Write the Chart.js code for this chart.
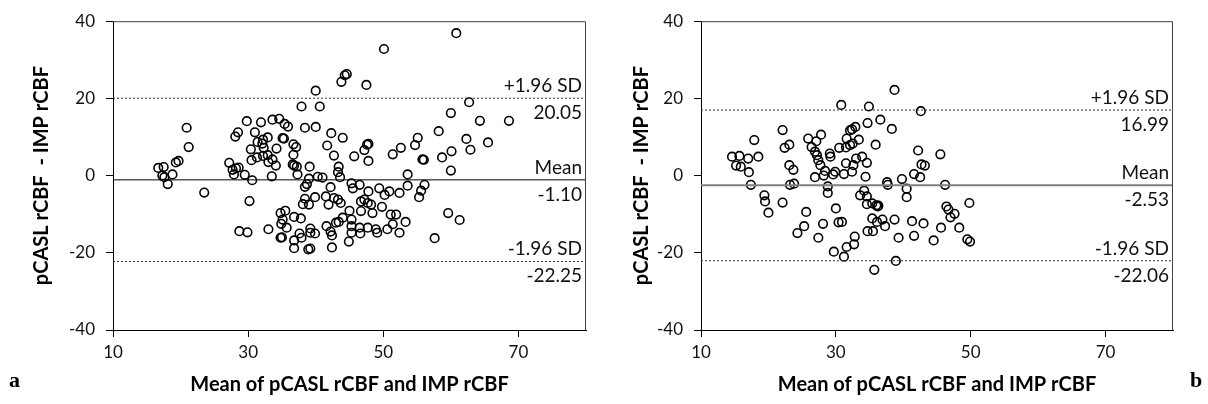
<!DOCTYPE html>
<html>
<head>
<meta charset="utf-8">
<script src="https://cdn.jsdelivr.net/npm/chart.js@4.4.1/dist/chart.umd.min.js"></script>
<style>
html,body{margin:0;padding:0;background:#fff;}
body{width:1208px;height:404px;overflow:hidden;position:relative;}
canvas{position:absolute;top:0;}
#ca{left:0;}
#cb{left:600px;}
.tag{position:absolute;font-family:'Liberation Serif','DejaVu Serif',serif;font-weight:bold;font-size:22px;color:#000;line-height:1;}
</style>
</head>
<body>
<canvas id="ca" width="600" height="404"></canvas>
<canvas id="cb" width="608" height="404"></canvas>
<div class="tag" style="left:9px;top:369px;">a</div>
<div class="tag" style="left:1190px;top:369px;">b</div>
<script>
// ---------- data ----------
const xTickValues = [10, 30, 50, 70];
const yTickValues = [-40, -20, 0, 20, 40];
const xRange = [10, 80];
const yRange = [-40, 40];
const xTitle = 'Mean of pCASL rCBF and IMP rCBF';
const yTitle = 'pCASL rCBF  - IMP rCBF';
const lineNames = ['+1.96 SD', 'Mean', '-1.96 SD'];

// panel a
const aLimits = [20.05, -1.10, -22.25];
const aLimitText = ['20.05', '-1.10', '-22.25'];
const aX = [44.3,44.6,43.8,40.0,37.9,40.6,20.9,21.2,29.8,31.9,33.6,34.6,35.4,35.9,38.4,40.0,42.3,44.0,31.0,28.5,
  28.1,31.4,32.2,32.1,32.9,35.1,35.3,36.7,37.1,30.4,32.3,34.2,41.7,42.7,36.7,30.5,31.3,32.2,32.9,33.0,
  33.6,34.1,36.6,36.8,37.2,39.1,43.4,43.3,27.2,27.7,28.2,28.6,27.9,29.5,30.6,33.5,37.3,39.0,40.3,41.0,
  43.6,16.7,17.5,19.3,19.7,17.3,17.6,18.8,18.1,23.5,30.2,28.7,29.9,33.0,38.7,38.4,42.2,38.4,39.9,38.1,
  39.0,41.5,42.7,43.3,41.9,43.7,34.8,35.5,35.1,34.9,36.8,37.8,35.7,34.8,35.0,36.8,36.8,37.6,37.9,39.2,
  39.2,39.9,38.9,39.2,41.6,42.2,42.4,42.4,43.0,43.4,44.0,45.3,45.5,46.5,47.8,49.4,50.2,50.9,52.4,53.6,
  53.6,55.3,55.6,56.1,46.7,47.2,47.7,48.2,45.0,46.7,48.4,49.8,45.3,45.3,46.5,47.7,48.9,49.1,45.3,46.6,
  44.9,50.6,51.4,51.9,51.1,52.4,53.3,59.6,61.3,57.6,60.8,50.1,47.5,62.7,60.0,64.3,68.6,58.2,62.3,62.9,
  65.5,60.1,58.7,60.0,55.1,54.7,55.8,56.0,51.4,52.6,45.7,47.2,47.6,47.8,47.8];
const aY = [26.0,26.3,24.3,22.0,17.9,17.9,12.4,7.4,14.1,13.8,14.5,14.7,13.4,12.7,12.4,12.6,11.0,9.8,11.2,11.2,
  10.1,8.7,9.3,8.3,9.9,9.7,9.6,8.1,7.4,6.8,7.2,7.0,7.8,5.2,5.4,4.0,4.7,5.1,5.3,3.5,
  4.2,2.6,2.9,2.6,2.3,2.3,2.3,0.9,3.3,1.5,1.9,2.1,0.3,0.2,-1.2,-0.2,0.3,-0.8,-0.3,-0.5,
  -0.4,2.0,2.2,3.4,3.8,0.0,-0.4,0.3,-2.2,-4.4,-6.6,-14.4,-14.7,-13.9,-2.2,-2.9,-3.0,-6.0,-5.6,-7.4,
  -7.5,-5.4,-5.8,-6.2,-7.5,-7.1,-9.7,-9.1,-11.4,-12.5,-10.7,-11.1,-13.5,-16.1,-16.0,-16.8,-18.8,-15.0,-16.1,-13.7,
  -14.8,-15.0,-19.1,-18.9,-13.1,-14.5,-15.5,-18.6,-12.2,-12.0,-10.9,-2.0,-3.3,-2.4,-4.1,-3.3,-5.0,-4.1,-4.5,0.3,
  -2.6,-5.6,-3.9,-2.4,-6.7,-6.2,-7.1,-7.5,-9.1,-9.2,-9.7,-8.1,-11.4,-13.1,-13.5,-13.5,-13.9,-14.8,-14.8,-15.0,
  -17.1,-13.9,-12.6,-10.1,-10.1,-14.8,-12.0,-9.7,-11.5,-16.2,36.9,32.8,23.5,19.0,16.2,14.2,14.2,11.5,9.5,6.7,
  8.6,6.3,4.7,1.3,9.8,7.9,4.2,4.1,5.5,7.2,5.0,6.6,8.0,8.2,3.8];

// panel b
const bLimits = [16.99, -2.53, -22.06];
const bLimitText = ['16.99', '-2.53', '-22.06'];
const bX = [38.7,30.8,34.9,42.6,36.6,34.7,38.3,32.9,32.1,32.4,31.6,33.4,32.1,31.5,30.5,32.5,35.9,22.1,17.9,25.9,
  27.1,27.8,22.4,23.1,26.4,26.9,27.2,27.4,29.1,29.2,33.0,33.9,34.6,31.5,32.6,32.4,31.2,29.9,29.6,28.4,
  28.2,27.7,26.9,34.4,14.6,15.7,17.0,18.5,15.2,15.9,17.1,23.1,23.7,42.2,42.7,43.2,45.5,41.6,42.5,39.8,
  37.6,17.4,19.4,19.5,20.0,22.1,23.2,23.8,28.8,28.8,30.0,25.6,25.3,24.3,27.4,28.1,30.4,30.9,29.7,31.2,
  31.6,32.7,32.8,35.7,38.9,33.6,34.2,34.6,34.6,35.4,36.0,36.2,36.3,35.4,36.9,36.1,37.3,34.7,35.5,37.7,
  38.7,39.3,40.5,40.5,41.3,41.6,43.0,44.5,45.6,46.2,46.4,46.7,47.6,47.0,48.3,49.8,49.5,49.9];
const bY = [22.2,18.3,17.9,16.7,14.5,13.6,12.1,12.6,11.7,12.0,9.6,9.3,7.9,7.3,7.2,8.3,8.0,11.8,9.2,9.6,
  8.9,10.6,7.2,8.0,7.4,6.2,5.3,4.0,5.7,4.9,4.4,4.9,3.3,3.2,2.7,1.0,0.4,1.0,0.3,1.2,
  0.0,2.7,-0.4,-0.3,4.9,5.1,4.4,4.9,2.6,2.3,0.9,2.7,1.5,6.5,2.9,2.6,5.5,0.4,-0.4,-0.9,
  -1.7,-2.4,-5.1,-6.7,-9.6,-7.0,-2.4,-2.1,-2.8,-4.5,-8.5,-9.4,-13.1,-14.9,-16.1,-12.5,-12.1,-12.0,-19.7,-21.0,
  -18.5,-17.8,-15.8,-24.4,-22.1,-5.1,-3.9,-5.4,-7.4,-7.2,-7.7,-8.0,-7.8,-11.1,-11.4,-12.0,-13.1,-14.4,-14.4,-2.4,
  -11.4,-16.1,-3.4,-5.6,-11.8,-15.6,-12.4,-16.8,-13.5,-2.4,-8.0,-8.8,-9.9,-10.8,-13.5,-7.1,-16.5,-17.1];

// ---------- chart builder ----------
const FONT = 'Lato, "Open Sans", sans-serif';

const annotatePlugin = {
  id: 'annotate',
  afterDatasetsDraw(chart) {
    const o = chart.options.plugins.annotate;
    const {ctx, chartArea: a, scales: {y}} = chart;
    ctx.save();
    ctx.strokeStyle = '#404040';
    ctx.lineWidth = 1;
    ctx.beginPath();
    ctx.moveTo(a.left, a.top + 0.5);
    ctx.lineTo(a.right - 0.5, a.top + 0.5);
    ctx.lineTo(a.right - 0.5, a.bottom);
    ctx.stroke();
    ctx.font = '19px ' + FONT;
    ctx.fillStyle = '#111';
    ctx.textAlign = 'right';
    ctx.textBaseline = 'alphabetic';
    o.values.forEach((v, i) => {
      const py = y.getPixelForValue(v);
      ctx.fillText(o.names[i], a.right - 4, py - 6);
      ctx.fillText(o.texts[i], a.right - 4, py + 21);
    });
    ctx.restore();
  }
};

function makeChart(id, xs, ys, limits, limitText, axisW, padRight, meanColor, meanWidth) {
  const pts = xs.map((x, i) => ({x: x, y: ys[i]}));
  const hline = (v) => [{x: xRange[0], y: v}, {x: xRange[1], y: v}];
  const ctx = document.getElementById(id);
  return new Chart(ctx, {
    type: 'scatter',
    data: {
      datasets: [
        {data: hline(limits[0]), showLine: true, pointRadius: 0, borderColor: '#333', borderWidth: 1, borderDash: [2, 2]},
        {data: hline(limits[1]), showLine: true, pointRadius: 0, borderColor: meanColor, borderWidth: meanWidth},
        {data: hline(limits[2]), showLine: true, pointRadius: 0, borderColor: '#333', borderWidth: 1, borderDash: [2, 2]},
        {data: pts, pointStyle: 'circle', pointRadius: 4.3, pointBorderWidth: 1.6, borderColor: '#000', backgroundColor: 'rgba(0,0,0,0)', pointBackgroundColor: 'rgba(0,0,0,0)', pointBorderColor: '#000'}
      ]
    },
    options: {
      responsive: false,
      animation: false,
      devicePixelRatio: 1,
      layout: {padding: {top: 18, right: padRight, bottom: 0, left: 0}, autoPadding: false},
      plugins: {
        legend: {display: false},
        tooltip: {enabled: false},
        annotate: {values: limits, names: lineNames, texts: limitText}
      },
      scales: {
        x: {
          type: 'linear', min: xRange[0], max: xRange[1],
          afterBuildTicks: (s) => { s.ticks = xTickValues.map(v => ({value: v})); },
          afterFit: (s) => { s.height = 74; },
          grid: {drawOnChartArea: false, drawTicks: true, tickLength: 7, color: '#000', lineWidth: 1},
          border: {display: true, color: '#000', width: 1},
          ticks: {color: '#111', font: {family: FONT, size: 17}, padding: 5, maxRotation: 0},
          title: {display: true, text: xTitle, color: '#000', font: {family: FONT, size: 20, weight: 'bold'}, padding: {top: 0, bottom: 7}}
        },
        y: {
          type: 'linear', min: yRange[0], max: yRange[1],
          afterBuildTicks: (s) => { s.ticks = yTickValues.map(v => ({value: v})); },
          afterFit: (s) => { s.width = axisW; },
          grid: {drawOnChartArea: false, drawTicks: true, tickLength: 7, color: '#000', lineWidth: 1},
          border: {display: true, color: '#000', width: 1},
          ticks: {color: '#111', font: {family: FONT, size: 17}, padding: 11},
          title: {display: true, text: yTitle, color: '#000', font: {family: FONT, size: 20, weight: 'bold'}, padding: {top: 30, bottom: 0}}
        }
      }
    },
    plugins: [annotatePlugin]
  });
}

makeChart('ca', aX, aY, aLimits, aLimitText, 113, 14, '#000', 1);
makeChart('cb', bX, bY, bLimits, bLimitText, 101, 35, '#808080', 2);
</script>
</body>
</html>
